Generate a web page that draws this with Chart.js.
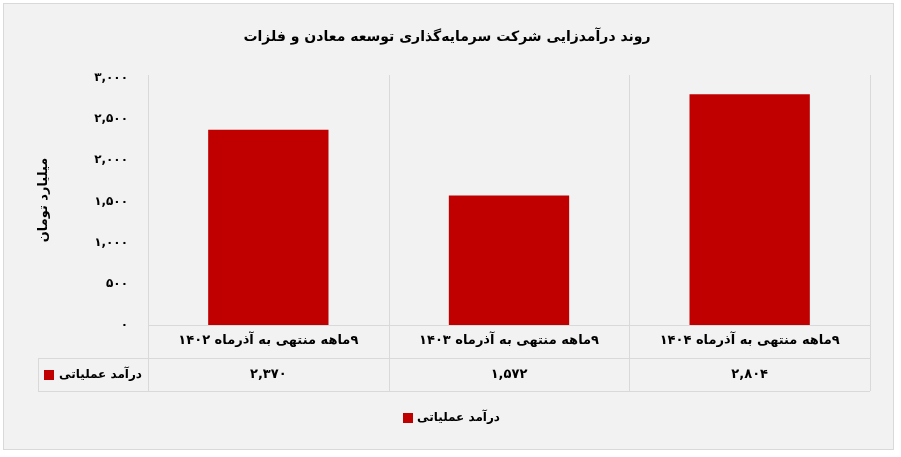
<!DOCTYPE html>
<html>
<head>
<meta charset="utf-8">
<script src="https://cdn.jsdelivr.net/npm/chart.js@4.4.1/dist/chart.umd.min.js"></script>
<style>
  html, body { margin: 0; padding: 0; background: #fff; }
  canvas { display: block; }
</style>
</head>
<body>
<canvas id="chart" width="901" height="457" dir="rtl"></canvas>
<script>
const title = 'روند درآمدزایی شرکت سرمایه‌گذاری توسعه معادن و فلزات';
const yTitle = 'میلیارد تومان';
const categories = ['۹ماهه منتهی به آذرماه ۱۴۰۲', '۹ماهه منتهی به آذرماه ۱۴۰۳', '۹ماهه منتهی به آذرماه ۱۴۰۴'];
const seriesName = 'درآمد عملیاتی';
const revenue = [2370, 1572, 2804];
const yMax = 3000;
const yStep = 500;

const FONT = "'DejaVu Sans', 'Noto Sans', sans-serif";
const RED = '#c00000';
const LINE = '#d9d9d9';

// persian digits with a plain comma, like the excel table
function fa(n) {
    return n.toLocaleString('en-US').replace(/\d/g, d => '۰۱۲۳۴۵۶۷۸۹'[d]);
}

const tablePlugin = {
    id: 'table',
    beforeDraw(chart) {
        const ctx = chart.ctx;
        ctx.save();
        ctx.fillStyle = '#ffffff';
        ctx.fillRect(0, 0, chart.width, chart.height);
        ctx.fillStyle = '#f2f2f2';
        ctx.fillRect(4, 4, 889, 445);
        ctx.strokeStyle = LINE;
        ctx.lineWidth = 1;
        ctx.strokeRect(3.5, 3.5, 890, 446);
        ctx.restore();
    },
    beforeDatasetsDraw(chart) {
        const ctx = chart.ctx;
        const area = chart.chartArea;
        const x = chart.scales.x;
        const half = (x.getPixelForValue(1) - x.getPixelForValue(0)) / 2;
        const rowTop = area.bottom + 33;
        const rowBottom = area.bottom + 66;
        ctx.save();
        ctx.strokeStyle = LINE;
        ctx.lineWidth = 1;
        ctx.beginPath();
        for (let i = 0; i <= categories.length; i++) {
            const px = Math.round(x.getPixelForValue(i) - half) + 0.5;
            ctx.moveTo(px, area.top - 3);
            ctx.lineTo(px, rowBottom);
        }
        ctx.moveTo(area.left, area.bottom + 0.5);
        ctx.lineTo(area.right, area.bottom + 0.5);
        ctx.moveTo(38, rowTop + 0.5);
        ctx.lineTo(area.right, rowTop + 0.5);
        ctx.moveTo(38, rowBottom + 0.5);
        ctx.lineTo(area.right, rowBottom + 0.5);
        ctx.moveTo(38.5, rowTop);
        ctx.lineTo(38.5, rowBottom);
        ctx.stroke();
        ctx.restore();
    },
    afterDraw(chart) {
        const ctx = chart.ctx;
        const area = chart.chartArea;
        const x = chart.scales.x;
        const rowMid = area.bottom + 50;
        ctx.save();
        ctx.direction = 'rtl';
        ctx.fillStyle = '#000';
        ctx.textBaseline = 'middle';

        // title
        ctx.font = 'bold 14px ' + FONT;
        ctx.textAlign = 'center';
        ctx.fillText(title, 447, 37);

        // data table row
        ctx.font = 'bold 13px ' + FONT;
        revenue.forEach((v, i) => {
            ctx.fillText(fa(v), x.getPixelForValue(i), rowMid);
        });
        ctx.font = 'bold 12px ' + FONT;
        ctx.textAlign = 'right';
        ctx.fillText(seriesName, 142, rowMid);
        ctx.fillStyle = RED;
        ctx.fillRect(44, rowMid - 5, 10, 10);

        // legend
        ctx.fillStyle = '#000';
        ctx.textAlign = 'right';
        ctx.fillText(seriesName, 500, 418);
        ctx.fillStyle = RED;
        ctx.fillRect(403, 413, 10, 10);

        // y axis title
        ctx.fillStyle = '#000';
        ctx.font = 'bold 13px ' + FONT;
        ctx.translate(44, 200);
        ctx.rotate(-Math.PI / 2);
        ctx.textAlign = 'center';
        ctx.fillText(yTitle, 0, 0);
        ctx.restore();
    }
};

new Chart(document.getElementById('chart'), {
    type: 'bar',
    data: {
        labels: categories,
        datasets: [{
            label: seriesName,
            data: revenue,
            backgroundColor: RED,
            categoryPercentage: 1,
            barPercentage: 0.5
        }]
    },
    options: {
        responsive: false,
        animation: false,
        layout: { padding: { top: 78, right: 31, bottom: 66, left: 0 } },
        plugins: {
            legend: { display: false },
            title: { display: false },
            tooltip: { enabled: false }
        },
        scales: {
            x: {
                grid: { display: false, drawTicks: false },
                border: { display: false },
                ticks: { color: '#000', font: { family: FONT, size: 13, weight: 'bold' }, padding: 8, maxRotation: 0 },
                afterFit(s) { s.height = 66; }
            },
            y: {
                min: 0,
                max: yMax,
                grid: { display: false, drawTicks: false },
                border: { display: false },
                ticks: {
                    stepSize: yStep,
                    color: '#000',
                    padding: 20,
                    font: { family: FONT, size: 12, weight: 'bold' },
                    callback: v => fa(v)
                },
                afterFit(s) { s.width = 148; }
            }
        }
    },
    plugins: [tablePlugin]
});
</script>
</body>
</html>
